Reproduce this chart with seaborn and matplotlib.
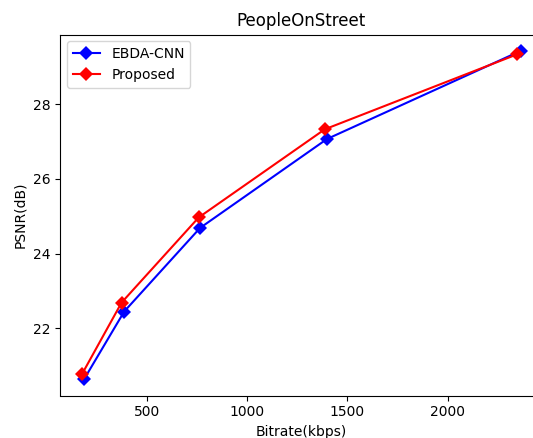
import matplotlib
matplotlib.use("Agg")
import matplotlib.pyplot as plt
import pandas as pd
import seaborn as sns

# rate-distortion points
bitrate_ebda = [186, 386, 765, 1398, 2365]
psnr_ebda = [20.64, 22.45, 24.69, 27.07, 29.43]
bitrate_prop = [175, 373, 758, 1387, 2348]
psnr_prop = [20.77, 22.69, 24.97, 27.33, 29.34]

df = pd.DataFrame({
    'Bitrate': bitrate_ebda + bitrate_prop,
    'PSNR': psnr_ebda + psnr_prop,
    'Method': ['EBDA-CNN'] * len(bitrate_ebda) + ['Proposed'] * len(bitrate_prop),
})

fig = plt.figure(figsize=(5.33, 4.38), dpi=100)
ax = fig.add_axes([60 / 533, (438 - 395.5) / 438, (542.6 - 60) / 533, (395.5 - 34.5) / 438])

sns.lineplot(data=df, x='Bitrate', y='PSNR', hue='Method', sort=False,
             palette={'EBDA-CNN': 'blue', 'Proposed': 'red'},
             marker='D', markersize=7, markeredgewidth=0, linewidth=1.5, ax=ax)

ax.set_title('PeopleOnStreet')
ax.set_xlabel('Bitrate(kbps)')
ax.set_ylabel('PSNR(dB)')
ax.set_xticks([500, 1000, 1500, 2000])
ax.set_yticks([22, 24, 26, 28])
ax.legend(title=None, loc='upper left')

fig.savefig('out.png', dpi=100)
